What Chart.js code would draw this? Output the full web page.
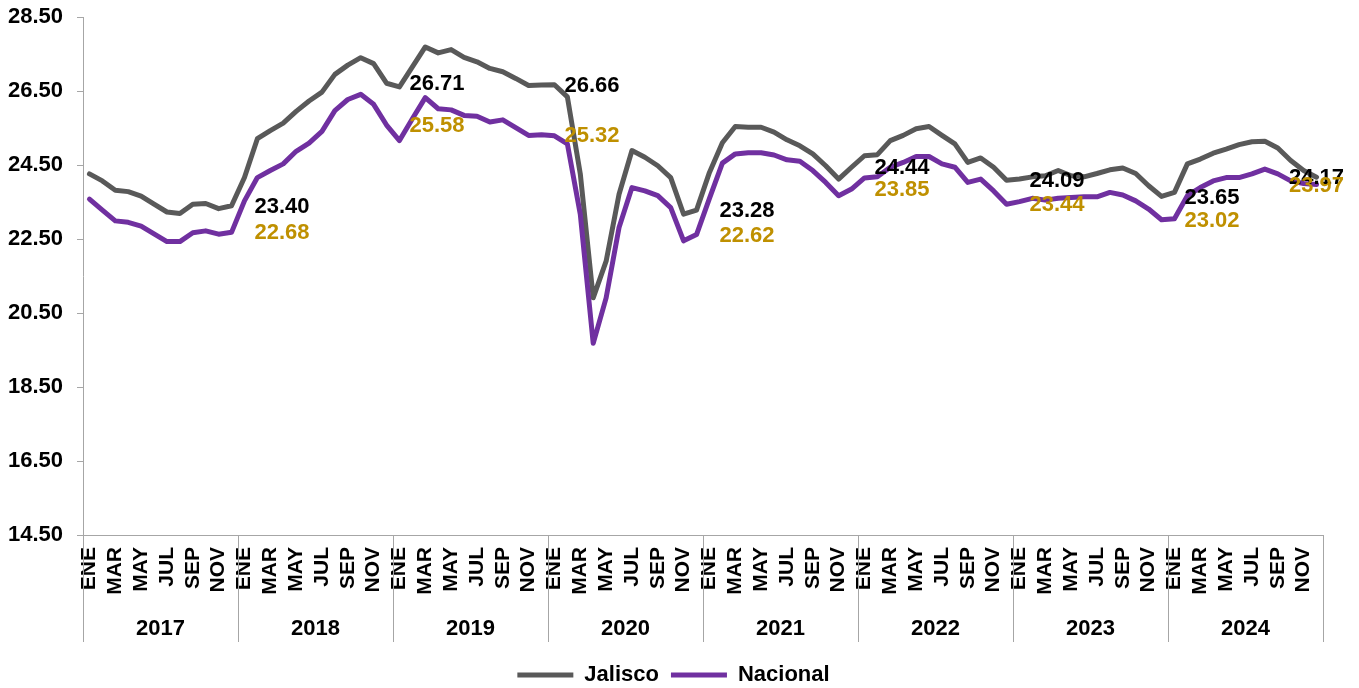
<!DOCTYPE html>
<html>
<head>
<meta charset="utf-8">
<script src="https://cdn.jsdelivr.net/npm/chart.js@4.4.1/dist/chart.umd.min.js"></script>
<style>
html,body{margin:0;padding:0;background:#ffffff;}
canvas{display:block;}
</style>
</head>
<body>
<canvas id="c" width="1359" height="688"></canvas>
<script>
const years = ['2017','2018','2019','2020','2021','2022','2023','2024'];
const months = ['ENE','FEB','MAR','ABR','MAY','JUN','JUL','AGO','SEP','OCT','NOV','DIC'];

const jalisco = [
  24.26, 24.07, 23.82, 23.78, 23.66, 23.44, 23.23, 23.19, 23.44, 23.46, 23.32, 23.40,
  24.16, 25.21, 25.43, 25.63, 25.95, 26.23, 26.47, 26.95, 27.20, 27.40, 27.24, 26.71,
  26.61, 27.15, 27.69, 27.53, 27.62, 27.41, 27.29, 27.11, 27.02, 26.84, 26.65, 26.66,
  26.67, 26.34, 24.26, 20.91, 21.90, 23.71, 24.89, 24.71, 24.48, 24.16, 23.17, 23.28,
  24.30, 25.10, 25.54, 25.52, 25.52, 25.39, 25.18, 25.02, 24.80, 24.48, 24.12, 24.44,
  24.75, 24.78, 25.16, 25.30, 25.48, 25.54, 25.30, 25.07, 24.57, 24.69, 24.44, 24.09,
  24.12, 24.18, 24.21, 24.35, 24.21, 24.18, 24.27, 24.37, 24.42, 24.27, 23.94, 23.65,
  23.76, 24.53, 24.66, 24.82, 24.93, 25.05, 25.13, 25.14, 24.96, 24.62, 24.35, 24.17
];

const nacional = [
  23.58, 23.28, 22.99, 22.95, 22.85, 22.64, 22.43, 22.43, 22.67, 22.72, 22.63, 22.68,
  23.53, 24.16, 24.35, 24.53, 24.87, 25.09, 25.41, 25.97, 26.27, 26.41, 26.14, 25.58,
  25.16, 25.75, 26.32, 26.02, 25.99, 25.84, 25.82, 25.66, 25.72, 25.51, 25.30, 25.32,
  25.29, 25.07, 23.17, 19.68, 20.91, 22.81, 23.89, 23.80, 23.67, 23.35, 22.45, 22.62,
  23.60, 24.55, 24.80, 24.83, 24.83, 24.77, 24.64, 24.60, 24.35, 24.03, 23.67, 23.85,
  24.15, 24.18, 24.44, 24.57, 24.73, 24.73, 24.53, 24.44, 24.03, 24.12, 23.80, 23.44,
  23.51, 23.60, 23.55, 23.60, 23.62, 23.64, 23.64, 23.76, 23.69, 23.53, 23.31, 23.02,
  23.05, 23.67, 23.89, 24.07, 24.16, 24.16, 24.26, 24.39, 24.26, 24.07, 24.00, 23.97
];

const seriesNames = ['Jalisco', 'Nacional'];
const yMin = 14.5, yMax = 28.5, yStep = 2;

const categories = years.flatMap(() => months);
const labelIndices = years.map((y, k) => k * 12 + 11);

const LINE_COLORS = ['#595959', '#7030A0'];
const LABEL_COLORS = ['#000000', '#BF9000'];
const AXIS_COLOR = '#A6A6A6';
const FONT = "'Liberation Sans', Arial, sans-serif";

const overlay = {
  id: 'overlay',
  afterLayout(chart) {
    const lg = chart.legend;
    if (lg) { lg.left += 12; lg.right += 12; }
  },
  afterDatasetsDraw(chart) {
    const ctx = chart.ctx;
    ctx.save();
    ctx.font = 'bold 22px ' + FONT;
    ctx.textBaseline = 'middle';
    chart.data.datasets.forEach((ds, di) => {
      const meta = chart.getDatasetMeta(di);
      ctx.fillStyle = LABEL_COLORS[di];
      labelIndices.forEach(i => {
        const pt = meta.data[i];
        if (!pt) return;
        const last = i === ds.data.length - 1;
        ctx.textAlign = last ? 'center' : 'left';
        ctx.fillText(ds.data[i].toFixed(2), last ? pt.x : pt.x + 23, pt.y + 1);
      });
    });
    ctx.restore();
  },
  afterDraw(chart) {
    const ctx = chart.ctx;
    const x = chart.scales.x;
    const x2 = chart.scales.x2;
    const n = categories.length;
    const band = x.getPixelForValue(1) - x.getPixelForValue(0);
    ctx.save();
    ctx.strokeStyle = AXIS_COLOR;
    ctx.lineWidth = 1;
    for (let b = 0; b <= years.length; b++) {
      const i = b * 12;
      const px = i < n ? x.getPixelForValue(i) - band / 2 : x.getPixelForValue(n - 1) + band / 2;
      const xx = Math.round(px) + 0.5;
      ctx.beginPath();
      ctx.moveTo(xx, chart.chartArea.bottom);
      ctx.lineTo(xx, x2.bottom - 10);
      ctx.stroke();
    }
    ctx.restore();
  }
};

new Chart(document.getElementById('c'), {
  type: 'line',
  data: {
    labels: categories,
    datasets: [
      {
        label: seriesNames[0],
        data: jalisco,
        borderColor: LINE_COLORS[0],
        backgroundColor: LINE_COLORS[0],
        borderWidth: 5,
        pointRadius: 0,
        tension: 0,
        borderJoinStyle: 'round',
        borderCapStyle: 'round',
        order: 1
      },
      {
        label: seriesNames[1],
        data: nacional,
        borderColor: LINE_COLORS[1],
        backgroundColor: LINE_COLORS[1],
        borderWidth: 5,
        pointRadius: 0,
        tension: 0,
        borderJoinStyle: 'round',
        borderCapStyle: 'round',
        order: 0
      }
    ]
  },
  options: {
    responsive: false,
    animation: false,
    devicePixelRatio: 1,
    layout: { padding: { left: 0, right: 36, top: 17, bottom: -8 } },
    plugins: {
      legend: {
        position: 'bottom',
        labels: {
          usePointStyle: true,
          pointStyle: 'line',
          pointStyleWidth: 56,
          padding: 12,
          color: '#000000',
          font: { family: FONT, size: 22, weight: 'bold' },
          sort: (a, b) => a.datasetIndex - b.datasetIndex
        }
      },
      tooltip: { enabled: false }
    },
    scales: {
      x: {
        type: 'category',
        offset: true,
        grid: { display: false },
        border: { display: true, color: AXIS_COLOR, width: 1 },
        ticks: {
          autoSkip: false,
          minRotation: 90,
          maxRotation: 90,
          padding: 4,
          color: '#000000',
          font: { family: FONT, size: 21, weight: 'bold' },
          callback: function (value, index) {
            return index % 2 === 0 ? this.getLabelForValue(value) : '';
          }
        },
        afterFit: (s) => { s.height = 70; }
      },
      x2: {
        type: 'category',
        labels: years,
        position: 'bottom',
        offset: true,
        grid: { display: false },
        border: { display: false },
        ticks: {
          padding: 3,
          color: '#000000',
          font: { family: FONT, size: 22, weight: 'bold' }
        },
        afterFit: (s) => { s.height = 47; }
      },
      y: {
        min: yMin,
        max: yMax,
        grid: { drawOnChartArea: false, drawTicks: true, tickLength: 6, color: AXIS_COLOR },
        border: { display: true, color: AXIS_COLOR, width: 1 },
        ticks: {
          stepSize: yStep,
          padding: 14,
          color: '#000000',
          font: { family: FONT, size: 22, weight: 'bold' },
          callback: (v) => Number(v).toFixed(2)
        },
        afterFit: (s) => { s.width = 83; s.paddingTop = 0; s.paddingBottom = 0; }
      }
    }
  },
  plugins: [overlay]
});
</script>
</body>
</html>
